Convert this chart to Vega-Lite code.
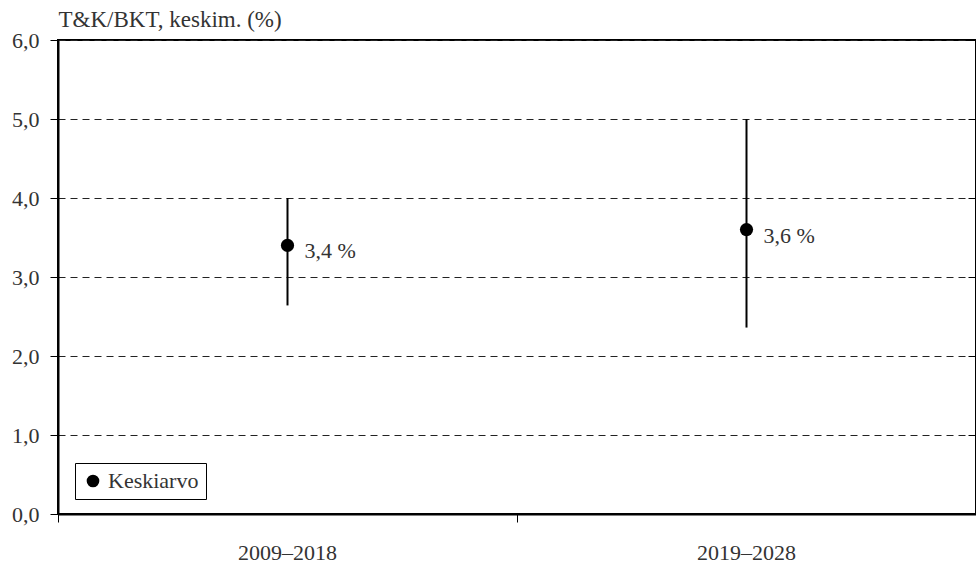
{
  "$schema": "https://vega.github.io/schema/vega-lite/v6.json",
  "width": 918,
  "height": 474,
  "autosize": "none",
  "padding": {"left": 58, "top": 40, "right": 0, "bottom": 53},
  "background": "white",
  "config": {
    "font": "'Liberation Serif', 'Times New Roman', Times, serif",
    "view": {"stroke": "black", "strokeWidth": 2},
    "axis": {"labelFont": "'Liberation Serif', 'Times New Roman', Times, serif", "titleFont": "'Liberation Serif', 'Times New Roman', Times, serif", "labelColor": "#333", "titleColor": "#333", "labelFontSize": 22, "domainColor": "black", "tickColor": "black"},
    "legend": {"labelFont": "'Liberation Serif', 'Times New Roman', Times, serif"},
    "text": {"font": "'Liberation Serif', 'Times New Roman', Times, serif"}
  },
  "data": {"values": [
    {"period": "2009–2018", "mean": 3.4, "low": 2.64, "high": 4.0, "label": "3,4 %"},
    {"period": "2019–2028", "mean": 3.6, "low": 2.36, "high": 5.0, "label": "3,6 %"}
  ]},
  "resolve": {"axis": {"y": "independent"}},
  "encoding": {
    "x": {"field": "period", "type": "nominal", "scale": {"paddingInner": 0, "paddingOuter": 0},
      "axis": {"title": null, "labelAngle": 0, "bandPosition": 0, "tickSize": 8, "labelPadding": 20, "domainWidth": 2, "tickWidth": 1, "labelFontSize": 22}}
  },
  "layer": [
    {
      "mark": {"type": "rule", "color": "black", "strokeWidth": 2},
      "encoding": {
        "y": {"field": "low", "type": "quantitative", "scale": {"domain": [0, 6]},
          "axis": {"title": "T&K/BKT, keskim. (%)", "titleAngle": 0, "titleAlign": "left", "titleBaseline": "alphabetic", "titleX": 0, "titleY": -14, "titleFontSize": 23, "titleFontWeight": "normal",
            "tickCount": 6, "labelExpr": "replace(format(datum.value, '.1f'), '.', ',')", "tickSize": 8, "labelPadding": 11, "domainWidth": 2,
            "grid": true, "gridDash": [7, 5], "gridColor": "#222", "gridWidth": 1}},
        "y2": {"field": "high"}
      }
    },
    {
      "mark": {"type": "point", "shape": "circle", "filled": true, "size": 175, "opacity": 1},
      "encoding": {
        "y": {"field": "mean", "type": "quantitative",
          "axis": {"title": null, "labels": false, "domain": false, "grid": false, "tickCount": 6, "tickSize": 8, "offset": -8}},
        "color": {"datum": "Keskiarvo", "type": "nominal", "scale": {"range": ["black"]},
          "legend": {"title": null, "orient": "none", "legendX": 17, "legendY": 423, "strokeColor": "black", "padding": 7, "symbolSize": 160, "labelFontSize": 22, "labelColor": "#333"}}
      }
    },
    {
      "mark": {"type": "text", "align": "left", "baseline": "middle", "dx": 17, "dy": 6, "fontSize": 22, "color": "#333"},
      "encoding": {
        "y": {"field": "mean", "type": "quantitative", "axis": null},
        "text": {"field": "label"}
      }
    }
  ]
}
